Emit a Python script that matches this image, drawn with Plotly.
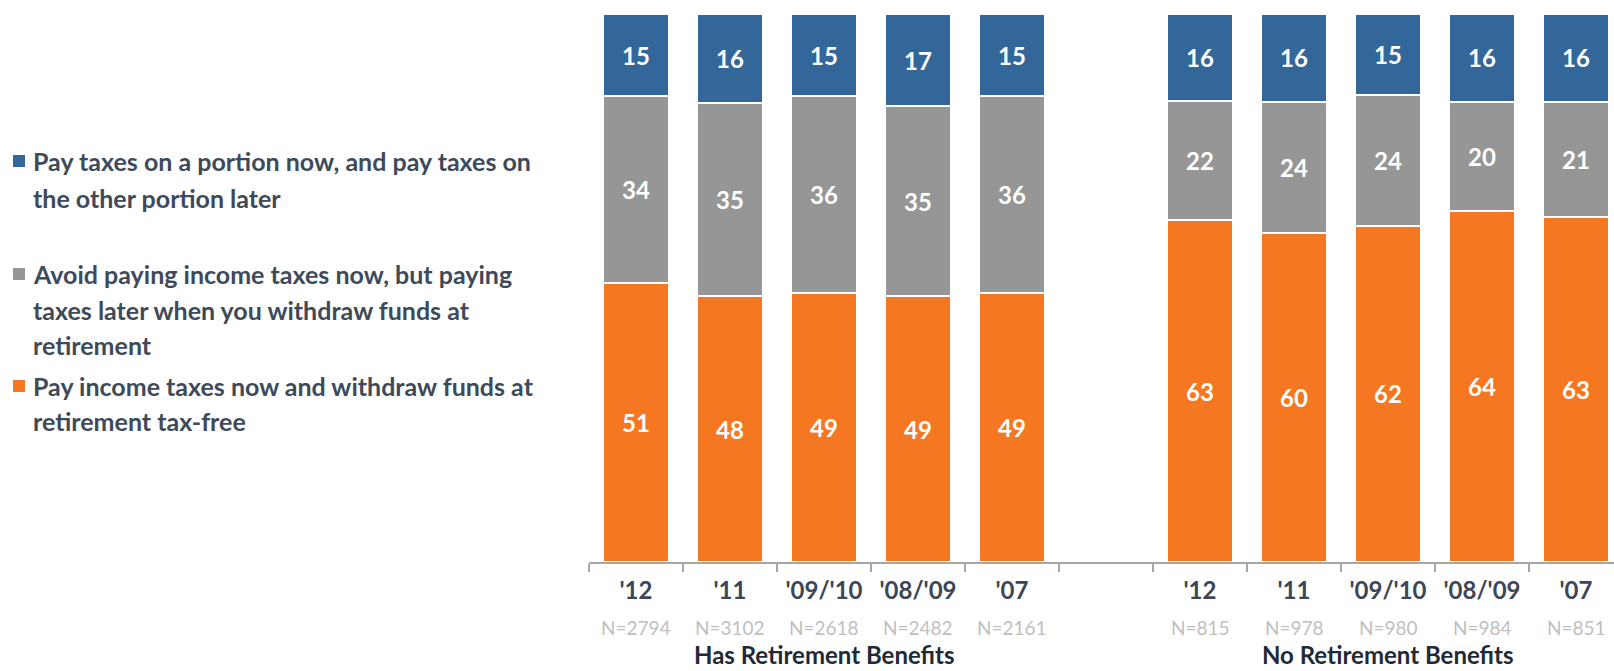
import plotly.graph_objects as go

# ---- data ----
periods = ["'12", "'11", "'09/'10", "'08/'09", "'07"]
has_n = ["N=2794", "N=3102", "N=2618", "N=2482", "N=2161"]
no_n = ["N=815", "N=978", "N=980", "N=984", "N=851"]
group_titles = ["Has Retirement Benefits", "No Retirement Benefits"]

series_names = [
    "Pay income taxes now and withdraw funds at retirement tax-free",
    "Avoid paying income taxes now, but paying taxes later when you withdraw funds at retirement",
    "Pay taxes on a portion now, and pay taxes on the other portion later",
]
has_orange = [51, 48, 49, 49, 49]
has_gray = [34, 35, 36, 35, 36]
has_blue = [15, 16, 15, 17, 15]
no_orange = [63, 60, 62, 64, 63]
no_gray = [22, 24, 24, 20, 21]
no_blue = [16, 16, 15, 16, 16]

colors = ["#F57722", "#969696", "#336699"]

# ---- layout geometry ----
W, H = 1614, 671
L, R, T, B = 589, 0, 14, 109
plot_w = W - L - R
plot_h = H - T - B
FONT = "Lato"


def px_x(x):
    return (x - L) / plot_w


def px_y(y):
    return (H - B - y) / plot_h


x_has = list(range(5))
x_no = list(range(6, 11))
xs = x_has + x_no

values = [has_orange + no_orange, has_gray + no_gray, has_blue + no_blue]

fig = go.Figure()
for name, vals, col in zip(series_names, values, colors):
    fig.add_trace(go.Bar(
        x=xs, y=vals, name=name, text=[str(v) for v in vals],
        texttemplate="%{text}", textposition="inside", insidetextanchor="middle",
        textangle=0, constraintext="none",
        textfont=dict(family=FONT, size=24, color="white", weight="bold"),
        marker=dict(color=col, line=dict(color="white", width=2)),
        width=0.7, showlegend=False, hoverinfo="skip",
    ))

annotations = []
# N labels
for xv, t in zip(xs, has_n + no_n):
    annotations.append(dict(x=xv, xref="x", y=px_y(627), yref="paper", text=t,
                            showarrow=False, yanchor="middle",
                            font=dict(family=FONT, size=19, color="#BFBFBF")))
# Group titles
for xc, t in zip([2, 8], group_titles):
    annotations.append(dict(x=xc, xref="x", y=px_y(654), yref="paper", text="<b>" + t + "</b>",
                            showarrow=False, yanchor="middle",
                            font=dict(family=FONT, size=24, color="#1F2A36")))

# Legend (manual, text wraps as in reference)
legend_items = [
    (colors[2], ["Pay taxes on a portion now, and pay taxes on", "the other portion later"], [161, 198]),
    (colors[1], ["Avoid paying income taxes now, but paying", "taxes later when you withdraw funds at", "retirement"], [274, 310, 345]),
    (colors[0], ["Pay income taxes now and withdraw funds at", "retirement tax-free"], [386, 421]),
]
shapes = []
for col, lines, ys in legend_items:
    shapes.append(dict(type="rect", xref="paper", yref="paper",
                       x0=px_x(13), x1=px_x(25), y0=px_y(ys[0] - 6), y1=px_y(ys[0] + 6),
                       fillcolor=col, line=dict(width=0)))
    for ln, yy in zip(lines, ys):
        annotations.append(dict(x=px_x(31), xref="paper", y=px_y(yy), yref="paper",
                                text="<b>" + ln + "</b>", showarrow=False,
                                xanchor="left", yanchor="middle",
                                font=dict(family=FONT, size=25, color="#3E4A5A")))

fig.update_layout(
    width=W, height=H,
    margin=dict(l=L, r=R, t=T, b=B, pad=0),
    barmode="stack", barnorm="percent",
    plot_bgcolor="white", paper_bgcolor="white",
    annotations=annotations, shapes=shapes,
    xaxis=dict(
        range=[-0.5, -0.5 + plot_w / 94.0],
        tickmode="array", tickvals=xs, ticktext=periods + periods,
        ticks="", ticklabelstandoff=6,
        tickfont=dict(family=FONT, size=24, color="#3B4656", weight="bold"),
        showline=True, linecolor="#A6A6A6", linewidth=2,
        showgrid=False, zeroline=False,
        minor=dict(tickmode="linear", tick0=-0.5, dtick=1, ticks="outside",
                   ticklen=8, tickwidth=2, tickcolor="#A6A6A6", showgrid=False),
    ),
    yaxis=dict(range=[0, 100], visible=False, showgrid=False, zeroline=False),
)

fig.write_html("out.html", config={"displayModeBar": False},
               post_script="document.body.style.margin='0';document.body.style.overflow='hidden';")
